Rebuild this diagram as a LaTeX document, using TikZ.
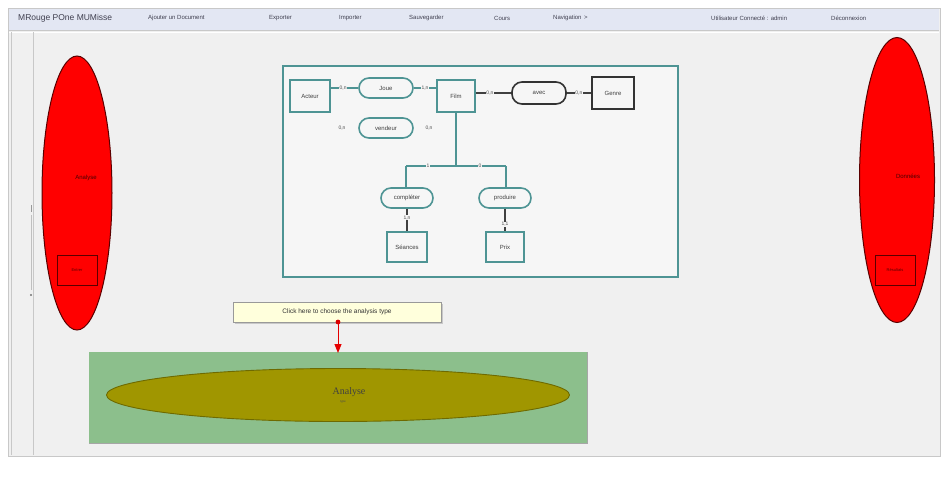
\documentclass[tikz,border=0pt]{standalone}
\usepackage{fontspec}
\setmainfont{Liberation Sans}
\newfontfamily\serifface{Liberation Serif}
\usetikzlibrary{shapes.geometric,arrows.meta,shadows}
\definecolor{pagebg}{HTML}{F0F0F0}
\definecolor{menubg}{HTML}{E3E7F3}
\definecolor{frameln}{HTML}{C8C8C8}
\definecolor{teal}{HTML}{4E9494}
\definecolor{erbg}{HTML}{F6F6F6}
\definecolor{redfill}{HTML}{FF0000}
\definecolor{redline}{HTML}{5A0000}
\definecolor{greenbox}{HTML}{8CBF8C}
\definecolor{olive}{HTML}{A09600}
\definecolor{oliveln}{HTML}{6E6A00}
\definecolor{tipbg}{HTML}{FFFFDC}
\definecolor{menutx}{HTML}{404050}
\tikzset{
  menuitem/.style={font=\fontsize{6}{7}\selectfont, text=menutx, anchor=west, inner sep=0pt},
  entity/.style={draw=teal, line width=1.6pt, fill=erbg, minimum width=40pt, minimum height=32pt, font=\fontsize{6}{7}\selectfont, text=black!75},
  entitydark/.style={entity, draw=black!80},
  relation/.style={draw=teal, line width=1.6pt, fill=erbg, rounded corners=10pt, minimum width=54pt, minimum height=20pt, font=\fontsize{6}{7}\selectfont, text=black!75},
  relationdark/.style={relation, draw=black!80},
  card/.style={font=\fontsize{5}{6}\selectfont, text=black!70, inner sep=0.6pt, fill=erbg},
  link/.style={draw=teal, line width=1.3pt},
  linkdark/.style={draw=black!75, line width=2pt},
  redoval/.style={ellipse, draw=redline, line width=1pt, fill=redfill},
  redbox/.style={draw=redline, line width=1pt, minimum width=40pt, minimum height=30pt, font=\fontsize{4}{5}\selectfont, text=redline},
  ovallabel/.style={font=\fontsize{6}{7}\selectfont, text=redline!80!black}
}
\begin{document}
\begin{tikzpicture}[x=1pt,y=-1pt]
\useasboundingbox (0,0) rectangle (945,483);
% page
\fill[white] (0,0) rectangle (945,483);
\fill[pagebg] (8,8) rectangle (940,456);
\draw[frameln, line width=0.6pt] (8,8) rectangle (940,456);
% menu bar
\fill[menubg] (9,9) rectangle (939,30);
\draw[frameln, line width=0.6pt] (9,30) -- (939,30);
\draw[white, line width=0.8pt] (9,32) -- (939,32);
% left side strip
\draw[frameln, line width=0.6pt] (11,32) -- (11,455);
\draw[frameln, line width=0.6pt] (33,32) -- (33,455);
\draw[black!40, line width=0.5pt] (31,205) -- (31,212);
\fill[black!55] (31,295) circle (1.1);
\draw[black!25, line width=0.4pt] (31,215) -- (31,290);
% menu entries
\node[font=\fontsize{8.5}{9}\selectfont, text=menutx, anchor=west, inner sep=0pt] (logo) at (18,18) {MRouge POne MUMisse};
\node[menuitem] (m1) at (148,18) {Ajouter un Document};
\node[menuitem] (m2) at (269,18) {Exporter};
\node[menuitem] (m3) at (339,18) {Importer};
\node[menuitem] (m4) at (409,18) {Sauvegarder};
\node[menuitem] (m5) at (494,18) {Cours};
\node[menuitem] (m6) at (553,18) {Navigation \,>};
\node[menuitem] (m7) at (711,18) {Utilisateur Connecté : admin};
\node[menuitem] (m8) at (831,18) {Déconnexion};
% side ovals
\node[redoval, minimum width=70pt, minimum height=274pt] (lov) at (77,193) {};
\node[ovallabel] (llab) at (86,178) {Analyse};
\node[redbox] (lbox) at (77,270) {Entrer};
\node[redoval, minimum width=75pt, minimum height=285pt] (rov) at (897,180) {};
\node[ovallabel] (rlab) at (908,176) {Données};
\node[redbox] (rbox) at (895,270) {Résultats};
% ER frame
\draw[teal, line width=1.6pt, fill=erbg] (283,66) rectangle (678,277);
\node[entity] (acteur) at (310,96) {Acteur};
\node[relation] (joue) at (386,88) {Joue};
\node[entity, minimum width=38pt] (film) at (456,96) {Film};
\node[relationdark, minimum height=22pt] (avec) at (539,93) {avec};
\node[entitydark, minimum width=42pt, line width=1.9pt] (genre) at (613,93) {Genre};
\node[relation] (vendeur) at (386,128) {vendeur};
\node[card] (cv1) at (342,128) {0,n};
\node[card] (cv2) at (429,128) {0,n};
\node[relation, minimum width=52pt] (compl) at (407,198) {compléter};
\node[relation, minimum width=52pt] (prod) at (505,198) {produire};
\node[entity, minimum height=30pt] (seance) at (407,247) {Séances};
\node[entity, minimum width=38pt, minimum height=30pt] (prix) at (505,247) {Prix};
\coordinate (junc) at (456,166);
\coordinate (jl) at (406,166);
\coordinate (jr) at (506,166);
% links
\draw[link] (acteur.east |- joue) -- (joue.west) node[card, pos=0.45] {0,n};
\draw[link] (joue.east) -- (film.west |- joue) node[card, pos=0.5] {1,n};
\draw[linkdark, line width=1.1pt] (film.east |- avec) -- (avec.west) node[card, pos=0.4] {0,n};
\draw[linkdark, line width=1.1pt] (avec.east) -- (genre.west) node[card, pos=0.5] {0,n};
\draw[link] (film.south) -- (junc);
\draw[link] (jl) -- (jr);
\node[card] (c1) at (428,166) {1};
\node[card] (c2) at (480,166) {0};
\draw[link] (jl) -- (compl.north -| jl);
\draw[link] (jr) -- (prod.north -| jr);
\draw[linkdark] (compl.south) -- (seance.north) node[card, pos=0.4] {1,n};
\draw[linkdark] (prod.south) -- (prix.north) node[card, pos=0.7] {1,1};
% analysis area
\fill[greenbox] (89,352) rectangle (587,443);
\draw[black!35, line width=0.5pt] (89,443) -- (587,443) -- (587,352);
\node[ellipse, draw=oliveln, line width=0.9pt, fill=olive, minimum width=463pt, minimum height=53pt] (anal) at (338,395) {};
\node[font=\serifface\fontsize{10}{11}\selectfont, text=black!75] (analtxt) at (349,392) {Analyse};
\node[font=\fontsize{3}{3.5}\selectfont, text=black!70] (analsub) at (343,402) {type};
% tooltip
\node[draw=black!40, fill=tipbg, minimum width=208pt, minimum height=20pt, drop shadow={shadow xshift=1.5pt, shadow yshift=-1.5pt, opacity=0.35},
      font=\fontsize{6.5}{7.5}\selectfont, text=black!80] (tip) at (337,312) {Click here to choose the analysis type};
\coordinate (tipdot) at (338,322);
\coordinate (arrowend) at (338,353);
\fill[red!85!black] (tipdot) circle (2.4);
\draw[red!90!black, line width=1pt, -{Triangle[length=9pt,width=7pt]}] (tipdot) -- (arrowend);
\end{tikzpicture}
\end{document}
